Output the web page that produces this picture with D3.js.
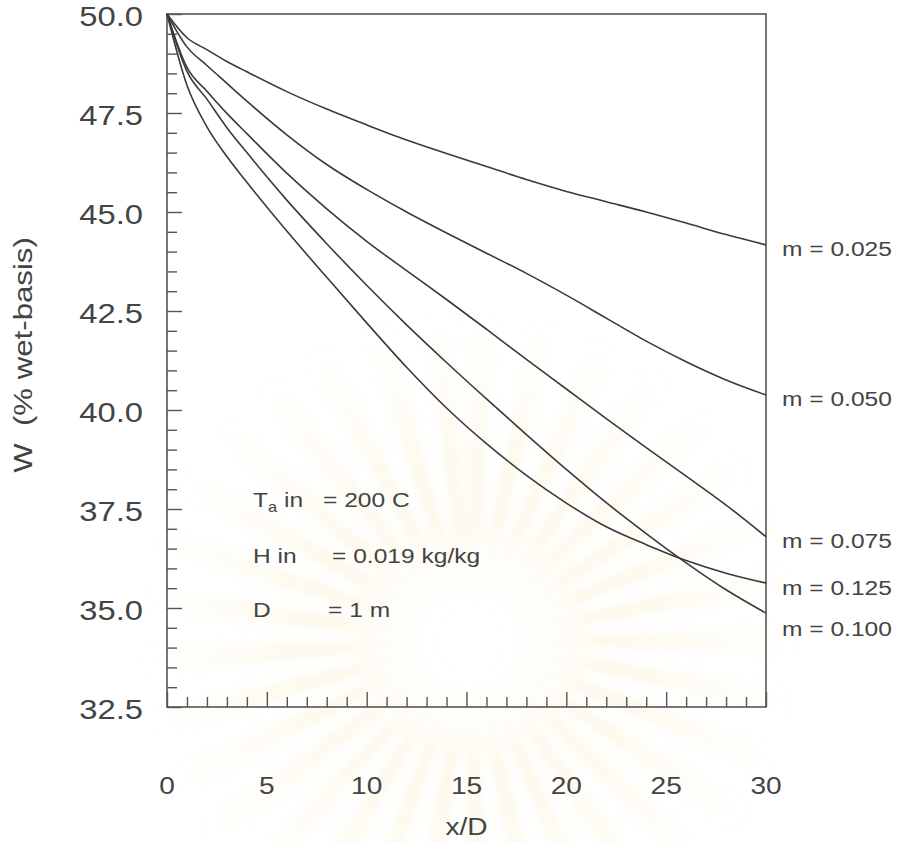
<!DOCTYPE html>
<html>
<head>
<meta charset="utf-8">
<script src="https://cdn.jsdelivr.net/npm/d3@7"></script>
<style>
  body { margin: 0; background: #fff; }
  text { font-family: "Liberation Sans", Arial, sans-serif; fill: #444; }
</style>
</head>
<body>
<svg id="chart" width="901" height="842"></svg>
<script>
// ---- data ----
const xD = [0, 1, 2, 3, 4, 6, 8, 10, 12, 14, 16, 18, 20, 22, 24, 26, 28, 30];
const w025 = [50, 49.4, 49.1, 48.8, 48.54, 48.04, 47.6, 47.2, 46.82, 46.48, 46.15, 45.82, 45.52, 45.26, 45.0, 44.72, 44.43, 44.17];
const w050 = [50, 49.17, 48.7, 48.25, 47.8, 46.95, 46.2, 45.57, 45.0, 44.47, 43.96, 43.45, 42.9, 42.32, 41.74, 41.22, 40.76, 40.38];
const w075 = [50, 48.65, 48.05, 47.49, 46.98, 45.98, 45.08, 44.26, 43.52, 42.79, 42.04, 41.28, 40.53, 39.78, 39.05, 38.33, 37.6, 36.8];
const w100 = [50, 48.55, 47.85, 47.13, 46.5, 45.3, 44.2, 43.15, 42.15, 41.2, 40.28, 39.38, 38.5, 37.66, 36.88, 36.14, 35.46, 34.87];
const w125 = [50, 48.2, 47.15, 46.4, 45.75, 44.52, 43.35, 42.2, 41.08, 40.05, 39.15, 38.35, 37.65, 37.05, 36.6, 36.2, 35.88, 35.63];

const flowRates = ["0.025", "0.050", "0.075", "0.100", "0.125"];
const seriesW = [w025, w050, w075, w100, w125];

const yTicks = [32.5, 35, 37.5, 40, 42.5, 45, 47.5, 50];
const xTicks = [0, 5, 10, 15, 20, 25, 30];

const noteNames = ["Ta in", "H in", "D"];
const noteValues = ["= 200 C", "= 0.019 kg/kg", "= 1 m"];

// ---- layout ----
const svg = d3.select("#chart");
const x = d3.scaleLinear([0, 30], [167, 766]);
const y = d3.scaleLinear([32.5, 50], [707, 14]);
const SX = 1.17;   // the scanned lettering is a bit wide

// faint watermark behind the chart
const defs = svg.append("defs");
defs.append("filter").attr("id", "soft")
  .append("feGaussianBlur").attr("stdDeviation", 6);
const grad = defs.append("radialGradient").attr("id", "fade")
  .attr("gradientUnits", "userSpaceOnUse")
  .attr("cx", 0).attr("cy", 0).attr("r", 330);
grad.append("stop").attr("offset", "0.1").attr("stop-color", "#f3e3ab").attr("stop-opacity", 0);
grad.append("stop").attr("offset", "0.35").attr("stop-color", "#f3e3ab").attr("stop-opacity", 0.35);
grad.append("stop").attr("offset", "1").attr("stop-color", "#f3e3ab").attr("stop-opacity", 0);

const rayArc = d3.arc().innerRadius(30).outerRadius(330);
svg.append("g")
  .attr("transform", "translate(470,640)")
  .attr("filter", "url(#soft)")
  .selectAll("path")
  .data(d3.range(0, 360, 11))
  .join("path")
  .attr("fill", "url(#fade)")
  .attr("d", a => rayArc({ startAngle: a * Math.PI / 180, endAngle: (a + 4.5) * Math.PI / 180 }));

// ticks (pointing inward)
const minorY = d3.range(65, 101).map(d => d / 2).filter(d => d % 2.5 !== 0);
const minorX = d3.range(0, 31).filter(d => d % 5 !== 0);

function styleAxis(g) {
  g.select(".domain").remove();
  g.selectAll("line").attr("stroke", "#555").attr("stroke-width", 1.4);
  g.selectAll("text").remove();
}

svg.append("g").attr("transform", `translate(${x(0)},0)`)
  .call(d3.axisLeft(y).tickValues(minorY).tickSize(-10)).call(styleAxis);
svg.append("g").attr("transform", `translate(${x(0)},0)`)
  .call(d3.axisLeft(y).tickValues(yTicks).tickSize(-15)).call(styleAxis);
svg.append("g").attr("transform", `translate(0,${y(32.5)})`)
  .call(d3.axisBottom(x).tickValues(minorX).tickSize(-10)).call(styleAxis);
svg.append("g").attr("transform", `translate(0,${y(32.5)})`)
  .call(d3.axisBottom(x).tickValues(xTicks).tickSize(-15)).call(styleAxis);

// frame
svg.append("rect")
  .attr("x", x(0)).attr("y", y(50))
  .attr("width", x(30) - x(0)).attr("height", y(32.5) - y(50))
  .attr("fill", "none").attr("stroke", "#555").attr("stroke-width", 1.6);

// tick labels
svg.append("g").selectAll("text")
  .data(yTicks).join("text")
  .attr("text-anchor", "end")
  .attr("font-size", 28)
  .attr("transform", d => `translate(143,${y(d) + 12}) scale(${SX},1)`)
  .text(d3.format(".1f"));

svg.append("g").selectAll("text")
  .data(xTicks).join("text")
  .attr("text-anchor", "middle")
  .attr("font-size", 24)
  .attr("transform", d => `translate(${x(d)},794) scale(${SX},1)`)
  .text(d => d);

// axis titles
svg.append("text")
  .attr("text-anchor", "middle")
  .attr("font-size", 24)
  .attr("transform", `translate(${(x(0) + x(30)) / 2},835) scale(${SX},1)`)
  .text("x/D");

svg.append("text")
  .attr("text-anchor", "middle")
  .attr("font-size", 26)
  .attr("transform", "translate(32,355) rotate(-90) scale(1.2,1)")
  .style("white-space", "pre")
  .text("W  (% wet-basis)");

// curves
const line = d3.line()
  .x((d, i) => x(xD[i]))
  .y(d => y(d))
  .curve(d3.curveMonotoneX);

svg.append("g").selectAll("path")
  .data(seriesW).join("path")
  .attr("fill", "none")
  .attr("stroke", "#3a3a3a")
  .attr("stroke-width", 1.6)
  .attr("d", line);

// curve labels at the right, nudged apart so they don't overlap
const ends = seriesW.map((w, i) => ({ m: flowRates[i], cy: y(w[w.length - 1]) + 4 }))
  .sort((a, b) => a.cy - b.cy);
ends.forEach((d, i) => { if (i > 0) d.cy = Math.max(d.cy, ends[i - 1].cy + 41); });

svg.append("g").selectAll("text")
  .data(ends).join("text")
  .attr("font-size", 21)
  .attr("transform", d => `translate(782,${d.cy + 7.5}) scale(${SX},1)`)
  .text(d => `m = ${d.m}`);

// conditions note
const noteY = [507, 563, 617];
noteNames.forEach((name, i) => {
  const t = svg.append("text")
    .attr("font-size", 21)
    .attr("transform", `translate(253,${noteY[i]}) scale(${SX},1)`);
  if (name.startsWith("Ta")) {
    t.append("tspan").text("T");
    t.append("tspan").attr("font-size", 14).attr("dy", 5).text("a");
    t.append("tspan").attr("dy", -5).text(name.slice(2));
  } else {
    t.text(name);
  }
  svg.append("text")
    .attr("font-size", 21)
    .attr("transform", `translate(${[323, 332, 328][i]},${noteY[i]}) scale(${SX},1)`)
    .text(noteValues[i]);
});
</script>
</body>
</html>
